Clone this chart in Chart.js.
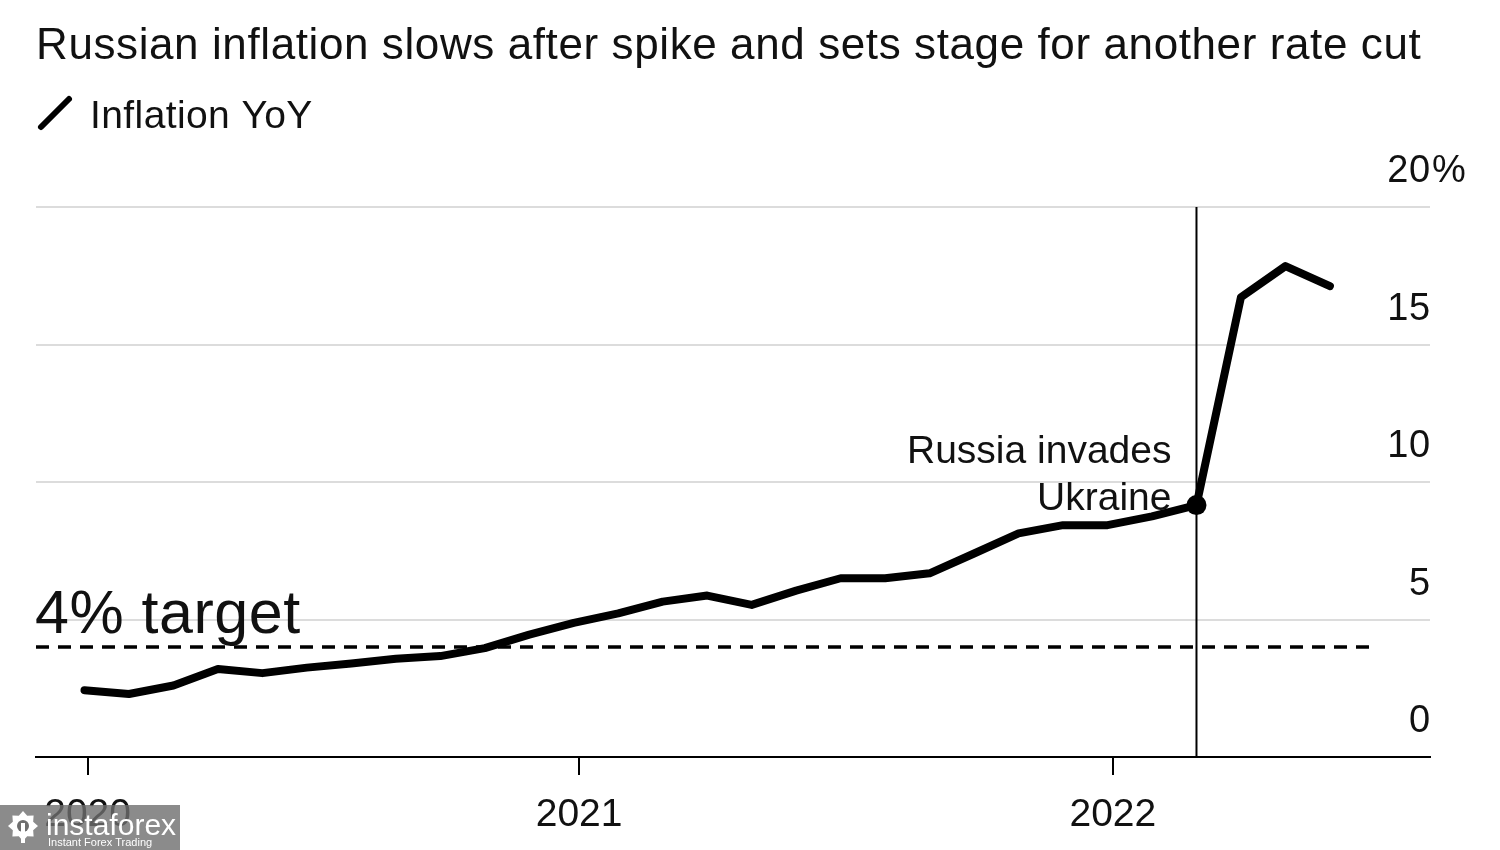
<!DOCTYPE html>
<html>
<head>
<meta charset="utf-8">
<script src="https://cdn.jsdelivr.net/npm/chart.js@4.4.0/dist/chart.umd.min.js"></script>
<style>
  html, body { margin: 0; padding: 0; background: #ffffff; }
  #wrap { width: 1500px; height: 850px; position: relative; }
  canvas { display: block; }
</style>
</head>
<body>
<div id="wrap"><canvas id="c" width="1500" height="850"></canvas></div>
<script>
// ---- Data ----
const months = [
  '2020-01','2020-02','2020-03','2020-04','2020-05','2020-06','2020-07','2020-08','2020-09','2020-10','2020-11','2020-12',
  '2021-01','2021-02','2021-03','2021-04','2021-05','2021-06','2021-07','2021-08','2021-09','2021-10','2021-11','2021-12',
  '2022-01','2022-02','2022-03','2022-04','2022-05'
];
const inflation = [
  2.43, 2.29, 2.6, 3.2, 3.05, 3.25, 3.4, 3.57, 3.67, 3.96, 4.45, 4.88,
  5.22, 5.65, 5.87, 5.53, 6.05, 6.5, 6.5, 6.68, 7.4, 8.13, 8.43, 8.43,
  8.75, 9.16, 16.72, 17.85, 17.12
];
const xTickValues = [0.07, 11.12, 23.12];
const xTickLabels = ['2020', '2021', '2022'];
const yTickValues = [0, 5, 10, 15, 20];
const yTickLabels = ['0', '5', '10', '15', '20'];
const targetRate = 4;
const targetLineEnd = 28.97;
const invasionIndex = 25;
const xMin = -1.09;
const xMax = 30.25;

const FONT = '"Liberation Sans", Arial, Helvetica, sans-serif';
const INK = '#111111';

const textPlugin = {
  id: 'texts',
  afterDraw(chart) {
    const ctx = chart.ctx;
    const xs = chart.scales.x, ys = chart.scales.y;
    ctx.save();
    ctx.fillStyle = INK;
    ctx.textBaseline = 'alphabetic';

    // Title
    ctx.font = '44px ' + FONT;
    ctx.textAlign = 'left';
    if ('letterSpacing' in ctx) ctx.letterSpacing = '0.6px';
    ctx.fillText('Russian inflation slows after spike and sets stage for another rate cut', 36, 59);

    // Legend
    if ('letterSpacing' in ctx) ctx.letterSpacing = '0.4px';
    ctx.strokeStyle = '#000';
    ctx.lineWidth = 6;
    ctx.lineCap = 'round';
    ctx.beginPath();
    ctx.moveTo(41, 127);
    ctx.lineTo(69, 99);
    ctx.stroke();
    ctx.font = '39px ' + FONT;
    ctx.fillText('Inflation YoY', 90, 128);

    // Y labels (above gridlines, right side)
    if ('letterSpacing' in ctx) ctx.letterSpacing = '0.8px';
    ctx.font = '38px ' + FONT;
    yTickValues.forEach((v, i) => {
      const py = ys.getPixelForValue(v) - 25;
      ctx.textAlign = 'right';
      ctx.fillText(yTickLabels[i], 1431, py);
      if (i === yTickValues.length - 1) {
        ctx.textAlign = 'left';
        ctx.fillText('%', 1432, py);
      }
    });
    if ('letterSpacing' in ctx) ctx.letterSpacing = '0px';

    // 4% target label
    ctx.textAlign = 'left';
    ctx.font = '61px ' + FONT;
    if ('letterSpacing' in ctx) ctx.letterSpacing = '0.5px';
    ctx.fillText(targetRate + '% target', 35, ys.getPixelForValue(targetRate) - 14);
    if ('letterSpacing' in ctx) ctx.letterSpacing = '0px';

    // Invasion annotation
    const ax = xs.getPixelForValue(invasionIndex) - 25;
    const ay = ys.getPixelForValue(inflation[invasionIndex]);
    ctx.textAlign = 'right';
    ctx.font = '39px ' + FONT;
    ctx.fillText('Russia invades', ax, ay - 42);
    ctx.fillText('Ukraine', ax, ay + 5);

    // Watermark
    ctx.fillStyle = 'rgba(110,110,110,0.8)';
    ctx.fillRect(0, 805, 180, 45);
    ctx.fillStyle = '#ffffff';
    const gx = 23, gy = 826;
    ctx.beginPath();
    for (let k = 0; k < 16; k++) {
      const ang = k * Math.PI / 8;
      const r = (k % 2 === 0) ? 15 : 11;
      const px = gx + r * Math.cos(ang), py = gy + r * Math.sin(ang);
      if (k === 0) ctx.moveTo(px, py); else ctx.lineTo(px, py);
    }
    ctx.closePath();
    ctx.fill();
    ctx.fillStyle = 'rgba(110,110,110,1)';
    ctx.beginPath(); ctx.arc(gx, gy, 6, 0, Math.PI * 2); ctx.fill();
    ctx.fillStyle = '#ffffff';
    ctx.fillRect(gx - 2, gy - 3, 4, 20);
    ctx.textAlign = 'left';
    ctx.font = '30px ' + FONT;
    ctx.fillText('instaforex', 46, 835);
    ctx.font = '11px ' + FONT;
    ctx.fillText('Instant Forex Trading', 48, 846);
    ctx.restore();
  }
};

const ctx = document.getElementById('c').getContext('2d');
new Chart(ctx, {
  type: 'line',
  data: {
    datasets: [
      {
        label: 'Inflation YoY',
        data: months.map((m, i) => ({ x: i, y: inflation[i] })),
        borderColor: '#000',
        backgroundColor: '#000',
        borderWidth: 8,
        borderJoinStyle: 'round',
        borderCapStyle: 'round',
        tension: 0,
        pointRadius: months.map((m, i) => i === invasionIndex ? 10 : 0),
        pointBackgroundColor: '#000',
        pointBorderWidth: 0,
        pointHoverRadius: 0
      },
      {
        label: 'target',
        data: [{ x: xMin, y: targetRate }, { x: targetLineEnd, y: targetRate }],
        borderColor: '#000',
        borderWidth: 3.5,
        borderDash: [13, 9],
        pointRadius: 0
      },
      {
        label: 'invasion',
        data: [{ x: invasionIndex, y: yTickValues[0] }, { x: invasionIndex, y: yTickValues[yTickValues.length - 1] }],
        borderColor: '#000',
        borderWidth: 2,
        pointRadius: 0
      }
    ]
  },
  options: {
    responsive: false,
    animation: false,
    events: [],
    layout: { padding: { left: 36, right: 70, top: 207, bottom: 12 } },
    plugins: {
      legend: { display: false },
      title: { display: false },
      tooltip: { enabled: false }
    },
    scales: {
      x: {
        type: 'linear',
        min: xMin,
        max: xMax,
        afterBuildTicks: (s) => { s.ticks = xTickValues.map(v => ({ value: v })); },
        afterFit: (s) => { s.height = 81; },
        ticks: {
          callback: (v, i) => xTickLabels[i],
          font: { family: FONT, size: 39 },
          color: INK,
          padding: 17,
          maxRotation: 0,
          autoSkip: false
        },
        grid: { display: true, drawOnChartArea: false, drawTicks: true, tickLength: 18, color: '#000', lineWidth: 2 },
        border: { display: true, color: '#000', width: 2 }
      },
      y: {
        type: 'linear',
        position: 'right',
        min: 0,
        max: 20,
        afterBuildTicks: (s) => { s.ticks = yTickValues.map(v => ({ value: v })); },
        ticks: { display: false },
        grid: { color: '#dcdcdc', lineWidth: 2, drawTicks: false },
        border: { display: false }
      }
    }
  },
  plugins: [textPlugin]
});
</script>
</body>
</html>
